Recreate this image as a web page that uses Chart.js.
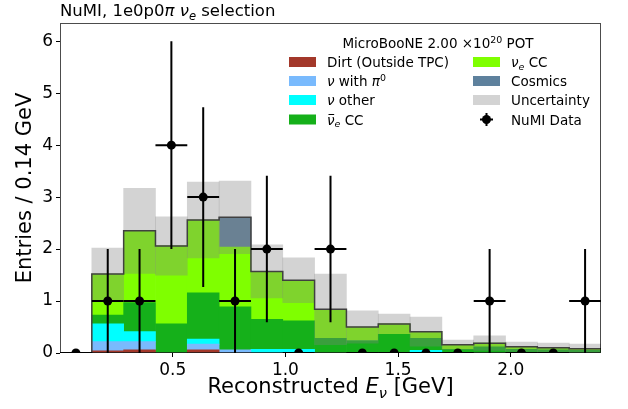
<!DOCTYPE html>
<html>
<head>
<meta charset="utf-8">
<script src="https://cdn.jsdelivr.net/npm/chart.js@4.4.1/dist/chart.umd.min.js"></script>
<style>
  body { margin: 0; background: #fff; }
  canvas { display: block; }
</style>
</head>
<body>
<canvas id="chart" width="628" height="409"></canvas>
<script>
// bin edges of reconstructed E_nu (GeV), 17 bins
const binEdges = [0, 0.1412, 0.2824, 0.4235, 0.5647, 0.7059, 0.8471, 0.9882, 1.1294,
                  1.2706, 1.4118, 1.5529, 1.6941, 1.8353, 1.9765, 2.1176, 2.2588, 2.4];

// stacked MC predictions, bottom to top
const dirt     = [0, 0.04, 0.06, 0, 0.06, 0, 0, 0, 0, 0, 0, 0, 0, 0, 0, 0, 0];
const nuPi0    = [0, 0.18, 0.16, 0, 0.11, 0.06, 0, 0, 0, 0, 0, 0, 0, 0, 0, 0, 0];
const nuOther  = [0, 0.34, 0.19, 0, 0.10, 0, 0.07, 0.07, 0, 0, 0, 0.05, 0, 0, 0, 0, 0];
const nuebarCC = [0, 0.17, 0.56, 0.56, 0.89, 0.83, 0.58, 0.55, 0.28, 0.24, 0.36, 0.23, 0.07, 0.12, 0.07, 0.06, 0.05];
const nueCC    = [0, 0.79, 1.38, 1.50, 1.40, 1.15, 0.92, 0.78, 0.56, 0.26, 0.20, 0.13, 0.09, 0.07, 0.05, 0.04, 0.03];
const cosmics  = [0, 0, 0, 0, 0, 0.57, 0, 0, 0, 0, 0, 0, 0, 0, 0, 0, 0];
const uncert   = [0, 0.50, 0.82, 0.56, 0.73, 0.70, 0.51, 0.43, 0.68, 0.31, 0.19, 0.28, 0.09, 0.14, 0.09, 0.09, 0.09];

// NuMI data
const dataCounts = [0, 1, 1, 4, 3, 1, 2, 0, 2, 0, 0, 0, 0, 1, 0, 0, 1];
const dataErrors = [0, 1, 1, 2, 1.73, 1, 1.41, 0, 1.41, 0, 0, 0, 0, 1, 0, 0, 1];

const xTicks = [0.5, 1.0, 1.5, 2.0];
const yTicks = [0, 1, 2, 3, 4, 5, 6];

const FONT = '"DejaVu Sans", sans-serif';
const centers = binEdges.slice(0, -1).map((e, i) => (e + binEdges[i + 1]) / 2);

const layers = [
  { label: 'Dirt (Outside TPC)', values: dirt, color: '#a3382a' },
  { label: 'nuPi0', values: nuPi0, color: '#79bafd' },
  { label: 'nuOther', values: nuOther, color: '#00ffff' },
  { label: 'nuebar', values: nuebarCC, color: '#15b01a' },
  { label: 'nue', values: nueCC, color: '#7fff00' },
  { label: 'Cosmics', values: cosmics, color: '#5e819d' }
];

const datasets = [];
let base = centers.map(() => 0);
layers.forEach((l, li) => {
  const pts = [];
  centers.forEach((c, i) => {
    if (l.values[i] > 0) pts.push({ x: c, y: [base[i], base[i] + l.values[i]] });
  });
  base = base.map((b, i) => b + l.values[i]);
  datasets.push({
    type: 'bar', label: l.label, data: pts, backgroundColor: l.color,
    grouped: false, barPercentage: 1, categoryPercentage: 1, borderWidth: 0, order: 10 + li
  });
});
const total = base;

// uncertainty band drawn as translucent grey over the stack
datasets.push({
  type: 'bar', label: 'Uncertainty',
  data: centers.map((c, i) => ({ x: c, y: [total[i] - uncert[i], total[i] + uncert[i]] })).filter((p, i) => uncert[i] > 0),
  backgroundColor: 'rgba(128,128,128,0.35)',
  grouped: false, barPercentage: 1, categoryPercentage: 1, borderWidth: 0, order: 3
});

// outline of the stacked total
const outline = binEdges.map((e, i) => ({ x: e, y: total[Math.min(i, total.length - 1)] }));
datasets.push({
  type: 'line', label: 'total', data: outline, stepped: 'before',
  borderColor: '#404040', borderWidth: 1.5, pointRadius: 0, fill: false, order: 2, clip: 0
});

// data points
datasets.push({
  type: 'scatter', label: 'NuMI Data',
  data: centers.map((c, i) => ({ x: c, y: dataCounts[i] })),
  backgroundColor: '#000', borderColor: '#000', pointRadius: 4.5, borderWidth: 0, order: 0, clip: 0
});
const dataIndex = datasets.length - 1;

function segFont(s, size) {
  const sz = (s.sub || s.sup) ? size * 0.7 : size;
  return (s.it ? 'italic ' : '') + sz + 'px ' + FONT;
}
function richWidth(ctx, segs, size) {
  let w = 0;
  segs.forEach(s => { ctx.font = segFont(s, size); w += ctx.measureText(s.t).width; });
  return w;
}
function drawRich(ctx, segs, x, y, size, align) {
  let cx = x;
  const w = richWidth(ctx, segs, size);
  if (align === 'center') cx = x - w / 2;
  ctx.textBaseline = 'alphabetic';
  ctx.textAlign = 'left';
  segs.forEach(s => {
    ctx.font = segFont(s, size);
    let dy = 0;
    if (s.sub) dy = size * 0.22;
    if (s.sup) dy = -size * 0.38;
    ctx.fillText(s.t, cx, y + dy);
    const sw = ctx.measureText(s.t).width;
    if (s.bar) {
      ctx.save();
      ctx.strokeStyle = '#000';
      ctx.lineWidth = 1;
      ctx.beginPath();
      ctx.moveTo(cx + sw * 0.2, y - size * 0.74);
      ctx.lineTo(cx + sw * 0.95, y - size * 0.74);
      ctx.stroke();
      ctx.restore();
    }
    cx += sw;
  });
}

const legendItems = [
  { segs: [{ t: 'Dirt (Outside TPC)' }], color: '#a3382a' },
  { segs: [{ t: 'ν', it: true }, { t: ' with ' }, { t: 'π', it: true }, { t: '0', sup: true }], color: '#79bafd' },
  { segs: [{ t: 'ν', it: true }, { t: ' other' }], color: '#00ffff' },
  { segs: [{ t: 'ν', it: true, bar: true }, { t: 'e', it: true, sub: true }, { t: ' CC' }], color: '#15b01a' },
  { segs: [{ t: 'ν', it: true }, { t: 'e', it: true, sub: true }, { t: ' CC' }], color: '#7fff00' },
  { segs: [{ t: 'Cosmics' }], color: '#5e819d' },
  { segs: [{ t: 'Uncertainty' }], color: 'rgba(128,128,128,0.35)' },
  { segs: [{ t: 'NuMI Data' }], marker: true }
];

const decorations = {
  id: 'decorations',
  beforeDatasetDraw(chart, args) {
    if (args.index !== dataIndex) return;
    const ctx = chart.ctx, xs = chart.scales.x, ys = chart.scales.y, a = chart.chartArea;
    ctx.save();
    ctx.beginPath();
    ctx.rect(a.left, a.top, a.right - a.left, a.bottom - a.top);
    ctx.clip();
    ctx.strokeStyle = '#000';
    ctx.lineWidth = 2;
    centers.forEach((c, i) => {
      const px = xs.getPixelForValue(c), py = ys.getPixelForValue(dataCounts[i]);
      ctx.beginPath();
      ctx.moveTo(xs.getPixelForValue(binEdges[i]), py);
      ctx.lineTo(xs.getPixelForValue(binEdges[i + 1]), py);
      if (dataErrors[i] > 0) {
        ctx.moveTo(px, ys.getPixelForValue(dataCounts[i] - dataErrors[i]));
        ctx.lineTo(px, ys.getPixelForValue(dataCounts[i] + dataErrors[i]));
      }
      ctx.stroke();
    });
    ctx.restore();
  },
  afterDraw(chart) {
    const ctx = chart.ctx, a = chart.chartArea;
    ctx.save();
    // frame
    ctx.strokeStyle = 'rgba(0,0,0,0.7)';
    ctx.lineWidth = 1;
    ctx.strokeRect(Math.round(a.left) + 0.5, Math.round(a.top) + 0.5,
                   Math.round(a.right - a.left) - 1, Math.round(a.bottom - a.top) - 1);
    ctx.fillStyle = '#000';
    // title
    drawRich(ctx, [{ t: 'NuMI, 1e0p0' }, { t: 'π', it: true }, { t: ' ' }, { t: 'ν', it: true },
                   { t: 'e', it: true, sub: true }, { t: ' selection' }], a.left, 16, 16.5, 'left');
    // axis titles
    drawRich(ctx, [{ t: 'Reconstructed ' }, { t: 'E', it: true }, { t: 'ν', it: true, sub: true },
                   { t: ' [GeV]' }], (a.left + a.right) / 2, 393, 21, 'center');
    ctx.save();
    ctx.translate(31, (a.top + a.bottom) / 2);
    ctx.rotate(-Math.PI / 2);
    drawRich(ctx, [{ t: 'Entries / 0.14 GeV' }], 0, 0, 21, 'center');
    ctx.restore();
    // legend
    const ls = 13.5;
    drawRich(ctx, [{ t: 'MicroBooNE 2.00 ×10' }, { t: '20', sup: true }, { t: ' POT' }], 438, 48, ls, 'center');
    const colX = [289, 473], rowY = [62, 81, 100, 119.5];
    legendItems.forEach((it, k) => {
      const cx = colX[Math.floor(k / 4)], cy = rowY[k % 4];
      if (it.marker) {
        ctx.strokeStyle = '#000';
        ctx.lineWidth = 2;
        ctx.beginPath();
        ctx.moveTo(cx + 7, cy); ctx.lineTo(cx + 20, cy);
        ctx.moveTo(cx + 13.5, cy - 6.5); ctx.lineTo(cx + 13.5, cy + 6.5);
        ctx.stroke();
        ctx.beginPath();
        ctx.arc(cx + 13.5, cy, 4.5, 0, Math.PI * 2);
        ctx.fill();
      } else {
        ctx.fillStyle = it.color;
        ctx.fillRect(cx, cy - 5, 27, 10);
      }
      ctx.fillStyle = '#000';
      drawRich(ctx, it.segs, cx + 38, cy + 5, ls, 'left');
    });
    ctx.restore();
  }
};

new Chart(document.getElementById('chart'), {
  data: { datasets: datasets },
  options: {
    responsive: false,
    animation: false,
    layout: { padding: { left: 0, right: 27, top: 23, bottom: 0 } },
    plugins: { legend: { display: false }, tooltip: { enabled: false } },
    scales: {
      x: {
        type: 'linear', min: 0, max: 2.4, offset: false,
        afterFit: s => { s.height = 56; },
        afterBuildTicks: s => { s.ticks = xTicks.map(v => ({ value: v })); },
        grid: { drawOnChartArea: false, drawTicks: true, tickLength: 4, color: '#000', offset: false },
        border: { display: false },
        ticks: { color: '#000', font: { family: FONT, size: 17 }, padding: 3, maxRotation: 0,
                 callback: v => v.toFixed(1) }
      },
      y: {
        type: 'linear', min: 0, max: 6.35,
        afterFit: s => { s.width = 60; },
        afterBuildTicks: s => { s.ticks = yTicks.map(v => ({ value: v })); },
        grid: { drawOnChartArea: false, drawTicks: true, tickLength: 4, color: '#000' },
        border: { display: false },
        ticks: { color: '#000', font: { family: FONT, size: 17 }, padding: 3,
                 callback: v => String(v) }
      }
    }
  },
  plugins: [decorations]
});
</script>
</body>
</html>
